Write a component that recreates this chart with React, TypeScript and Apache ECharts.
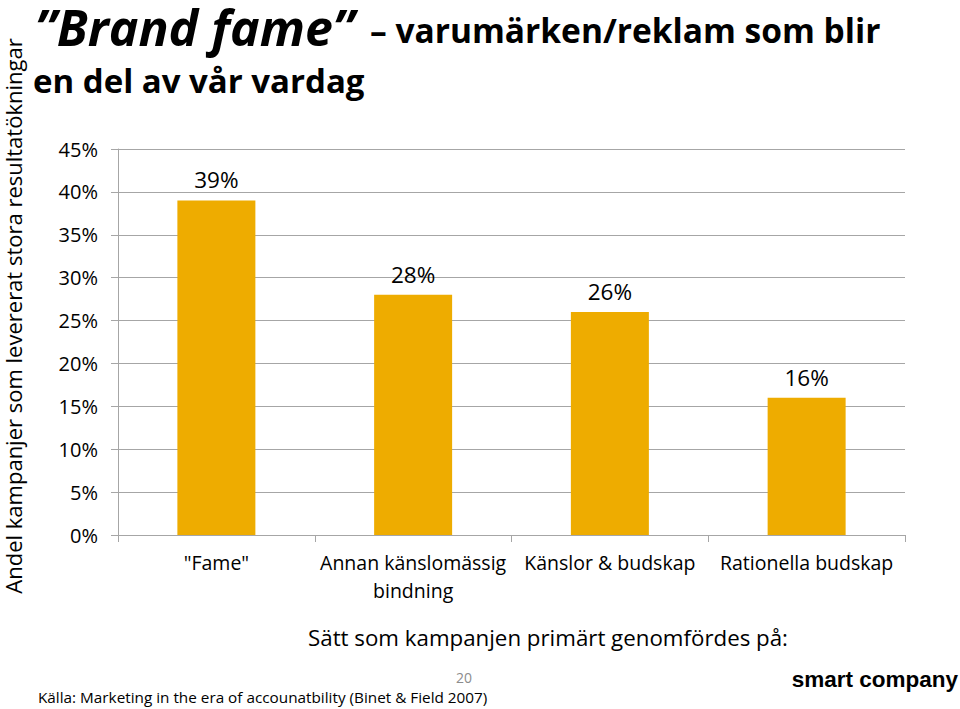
import React, { useEffect, useRef } from "react";
import * as echarts from "echarts";

const categories = ['"Fame"', "Annan känslomässig\nbindning", "Känslor & budskap", "Rationella budskap"];
const values = [39, 28, 26, 16];
const yTicks = { min: 0, max: 45, interval: 5 };
const titleMain = "”Brand fame”";
const titleRest = "– varumärken/reklam som blir";
const titleLine2 = "en del av vår vardag";
const yAxisTitle = "Andel kampanjer som levererat stora resultatökningar";
const xAxisTitle = "Sätt som kampanjen primärt genomfördes på:";
const pageNum = "20";
const source = "Källa: Marketing in the era of accounatbility (Binet & Field 2007)";
const brand = "smart company";

const FONT = "'Open Sans', Lato, sans-serif";

export default function App() {
  const ref = useRef<HTMLDivElement>(null);
  useEffect(() => {
    document.body.style.margin = "0";
    const chart = echarts.init(ref.current!, null, { renderer: "svg" });
    chart.setOption({
      animation: false,
      backgroundColor: "#ffffff",
      grid: { left: 118, right: 55, top: 149, bottom: 174 },
      xAxis: {
        type: "category",
        data: categories,
        axisLine: { lineStyle: { color: "#a6a6a6", width: 1 } },
        axisTick: { show: true, length: 7, lineStyle: { color: "#a6a6a6" } },
        axisLabel: {
          color: "#000",
          fontFamily: FONT,
          fontSize: 19.5,
          margin: 13,
          lineHeight: 28,
          interval: 0,
        },
      },
      yAxis: {
        type: "value",
        min: yTicks.min,
        max: yTicks.max,
        interval: yTicks.interval,
        axisLine: { show: true, lineStyle: { color: "#a6a6a6" } },
        axisTick: { show: true, length: 7, lineStyle: { color: "#a6a6a6" } },
        splitLine: { show: true, lineStyle: { color: "#a6a6a6", width: 1 } },
        axisLabel: {
          formatter: "{value}%",
          color: "#000",
          fontFamily: FONT,
          fontSize: 20,
          margin: 20,
        },
      },
      series: [
        {
          type: "bar",
          data: values,
          barWidth: 78,
          itemStyle: { color: "#EEAC00" },
          label: {
            show: true,
            position: "top",
            distance: 9,
            formatter: "{c}%",
            color: "#000",
            fontFamily: FONT,
            fontSize: 22.5,
          },
        },
      ],
      graphic: [
        {
          type: "text",
          x: 35,
          y: 27,
          style: {
            text: titleMain,
            fontFamily: FONT,
            fontSize: 50,
            lineHeight: 50,
            fontWeight: "bold",
            fontStyle: "italic",
            fill: "#000",
            verticalAlign: "middle",
          },
        },
        {
          type: "text",
          x: 370,
          y: 30,
          style: {
            text: titleRest,
            fontFamily: FONT,
            fontSize: 33.5,
            fontWeight: "bold",
            fill: "#000",
            verticalAlign: "middle",
          },
        },
        {
          type: "text",
          x: 33,
          y: 80,
          style: {
            text: titleLine2,
            fontFamily: FONT,
            fontSize: 33,
            fontWeight: "bold",
            fill: "#000",
            verticalAlign: "middle",
          },
        },
        {
          type: "text",
          x: 13,
          y: 316,
          rotation: Math.PI / 2,
          style: {
            text: yAxisTitle,
            fontFamily: FONT,
            fontSize: 22,
            lineHeight: 22,
            fill: "#000",
            align: "center",
            verticalAlign: "middle",
          },
        },
        {
          type: "text",
          x: 548,
          y: 637,
          style: {
            text: xAxisTitle,
            fontFamily: FONT,
            fontSize: 22.3,
            fill: "#000",
            align: "center",
            verticalAlign: "middle",
          },
        },
        {
          type: "text",
          x: 464,
          y: 677,
          style: { text: pageNum, fontFamily: FONT, fontSize: 14, fill: "#8c8c8c", align: "center", verticalAlign: "middle" },
        },
        {
          type: "text",
          x: 38,
          y: 697,
          style: { text: source, fontFamily: FONT, fontSize: 15.3, fill: "#000", verticalAlign: "middle" },
        },
        {
          type: "text",
          x: 958,
          y: 679,
          style: {
            text: brand,
            fontFamily: "'Liberation Sans', Arial, sans-serif",
            fontSize: 22.5,
            fontWeight: "bold",
            fill: "#000",
            align: "right",
            verticalAlign: "middle",
          },
        },
      ],
    });
    return () => chart.dispose();
  }, []);
  return <div ref={ref} style={{ width: 960, height: 709 }} />;
}
